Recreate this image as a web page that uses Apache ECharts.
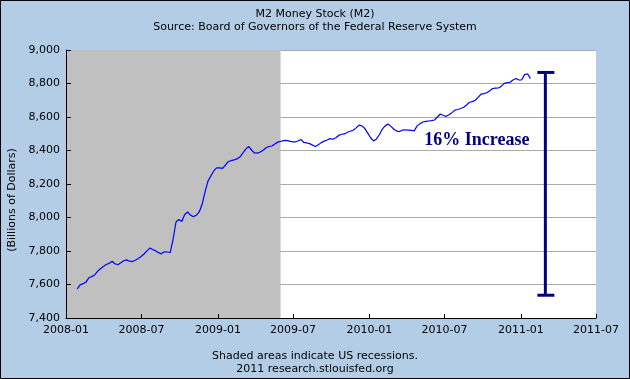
<!DOCTYPE html>
<html>
<head>
<meta charset="utf-8">
<script src="https://cdn.jsdelivr.net/npm/echarts@6/dist/echarts.min.js"></script>
<style>html,body{margin:0;padding:0;background:#B4CDE6}#c{width:630px;height:379px}</style>
</head>
<body>
<div id="c"></div>
<script>
// ---- data ----
const titleText = "M2 Money Stock (M2)";
const subtitleText = "Source: Board of Governors of the Federal Reserve System";
const yAxisTitle = "(Billions of Dollars)";
const footer1 = "Shaded areas indicate US recessions.";
const footer2 = "2011 research.stlouisfed.org";
const xTickLabels = ["2008-01","2008-07","2009-01","2009-07","2010-01","2010-07","2011-01","2011-07"];
const yMin = 7400, yMax = 9000, yStep = 200;
const recession = ["2008-01-01", "2009-06-01"];
// weekly observations, first week and then one value per week
const firstWeek = "2008-01-28";
const m2Weekly = [
7574,7598,7605,7614,7640,7647,7657,7679,7694,7707,
7719,7726,7739,7724,7718,7730,7742,7747,7739,7737,
7745,7755,7767,7782,7801,7817,7809,7801,7790,7783,
7795,7794,7791,7870,7973,7988,7976,8018,8033,8014,
8005,8013,8033,8079,8153,8217,8248,8278,8296,8296,
8293,8312,8333,8340,8344,8350,8361,8384,8408,8424,
8403,8385,8384,8391,8402,8416,8424,8427,8439,8450,
8454,8459,8460,8456,8452,8451,8457,8466,8448,8445,
8441,8432,8424,8435,8447,8456,8463,8471,8467,8476,
8490,8497,8499,8509,8515,8521,8535,8551,8547,8531,
8504,8476,8457,8469,8494,8527,8547,8558,8544,8527,
8516,8513,8522,8524,8522,8520,8517,8547,8559,8570,
8574,8576,8578,8582,8600,8618,8609,8604,8614,8626,
8641,8645,8651,8658,8672,8688,8692,8700,8717,8737,
8740,8745,8757,8770,8772,8773,8784,8801,8805,8807,
8821,8830,8821,8822,8853,8858,8829
];
const increaseBar = { date: "2011-03-01", low: 7536, high: 8866 };
const increaseLabel = { text: "16% Increase", date: "2010-09-17", value: 8463 };

// ---- build ----
const ts = s => { const p = s.split("-").map(Number); return Date.UTC(p[0], p[1]-1, p[2] || 1); };
const tickVals = xTickLabels.map(ts);
const t0 = ts(firstWeek);
const seriesData = m2Weekly.map((v, i) => [t0 + i*7*86400000, v]);
const fmtX = v => { const d = new Date(v); return d.getUTCFullYear() + "-" + String(d.getUTCMonth()+1).padStart(2,"0"); };
const FONT = "DejaVu Sans";

const chart = echarts.init(document.getElementById('c'), null, {renderer:'canvas'});
chart.setOption({
  animation: false,
  backgroundColor: '#B4CDE6',
  grid: { left: 66, right: 34, top: 50, bottom: 61, show: true, backgroundColor: '#ffffff', borderWidth: 0 },
  xAxis: {
    type: 'value', min: tickVals[0], max: tickVals[tickVals.length-1], z: 10,
    axisLine: { show: true, lineStyle: { color: '#000', width: 1 } },
    axisTick: { show: true, inside: true, length: 4, customValues: tickVals, lineStyle: { color: '#000' } },
    axisLabel: { customValues: tickVals, formatter: fmtX, color: '#000', fontFamily: FONT, fontSize: 11, margin: 7, showMinLabel: true, showMaxLabel: true },
    splitLine: { show: false }
  },
  yAxis: [{
    type: 'value', min: yMin, max: yMax, interval: yStep, z: 0,
    axisLine: { show: false }, axisTick: { show: false }, axisLabel: { show: false },
    splitLine: { show: true, lineStyle: { color: '#AAAAAA', width: 1 } }
  }, {
    type: 'value', min: yMin, max: yMax, interval: yStep, z: 10, position: 'left',
    axisLine: { show: true, lineStyle: { color: '#000', width: 1 } },
    axisTick: { show: true, inside: true, length: 5, lineStyle: { color: '#000' } },
    axisLabel: { color: '#000', fontFamily: FONT, fontSize: 11, margin: 6,
      formatter: v => v.toLocaleString('en-US') },
    splitLine: { show: false }
  }],
  series: [{
    type: 'line', data: seriesData, yAxisIndex: 0, showSymbol: false, symbol: 'none',
    lineStyle: { color: '#0000FF', width: 1.2 }, z: 3,
    markArea: { silent: true, itemStyle: { color: '#C0C0C0', opacity: 1 },
      data: [[{ xAxis: ts(recession[0]) }, { xAxis: ts(recession[1]) }]] }
  }, {
    type: 'custom', yAxisIndex: 0, z: 5,
    data: [[ts(increaseBar.date), increaseBar.low, increaseBar.high]],
    renderItem: (params, api) => {
      const top = api.coord([api.value(0), api.value(2)]);
      const bot = api.coord([api.value(0), api.value(1)]);
      const st = { stroke: '#000080', lineWidth: 3 };
      return { type: 'group', children: [
        { type: 'line', shape: { x1: top[0], y1: top[1], x2: bot[0], y2: bot[1] }, style: st },
        { type: 'line', shape: { x1: top[0]-8, y1: top[1], x2: top[0]+9, y2: top[1] }, style: st },
        { type: 'line', shape: { x1: bot[0]-8, y1: bot[1], x2: bot[0]+9, y2: bot[1] }, style: st }
      ]};
    }
  }, {
    type: 'custom', yAxisIndex: 0, z: 6,
    data: [[ts(increaseLabel.date), increaseLabel.value]],
    renderItem: (params, api) => {
      const p = api.coord([api.value(0), api.value(1)]);
      return { type: 'text', x: p[0], y: p[1], style: { text: increaseLabel.text, fill: '#000080',
        font: 'bold 18px "Liberation Serif"', align: 'center', verticalAlign: 'middle' } };
    }
  }],
  graphic: [
    { type: 'text', left: 'center', top: 9, style: { text: titleText, fill: '#000', font: '11px "DejaVu Sans"' } },
    { type: 'text', left: 'center', top: 22, style: { text: subtitleText, fill: '#000', font: '11px "DejaVu Sans"' } },
    { type: 'text', left: 'center', top: 351, style: { text: footer1, fill: '#000', font: '11px "DejaVu Sans"' } },
    { type: 'text', left: 'center', top: 364, style: { text: footer2, fill: '#000', font: '11px "DejaVu Sans"' } },
    { type: 'text', x: 12.5, y: 200, rotation: Math.PI/2, style: { text: yAxisTitle, fill: '#000', font: '11px "DejaVu Sans"', align: 'center', verticalAlign: 'middle' } },
    { type: 'rect', shape: { x: 0.5, y: 0.5, width: 629, height: 378 }, style: { fill: 'none', stroke: '#000', lineWidth: 1 }, z: 100 }
  ]
});
</script>
</body>
</html>
